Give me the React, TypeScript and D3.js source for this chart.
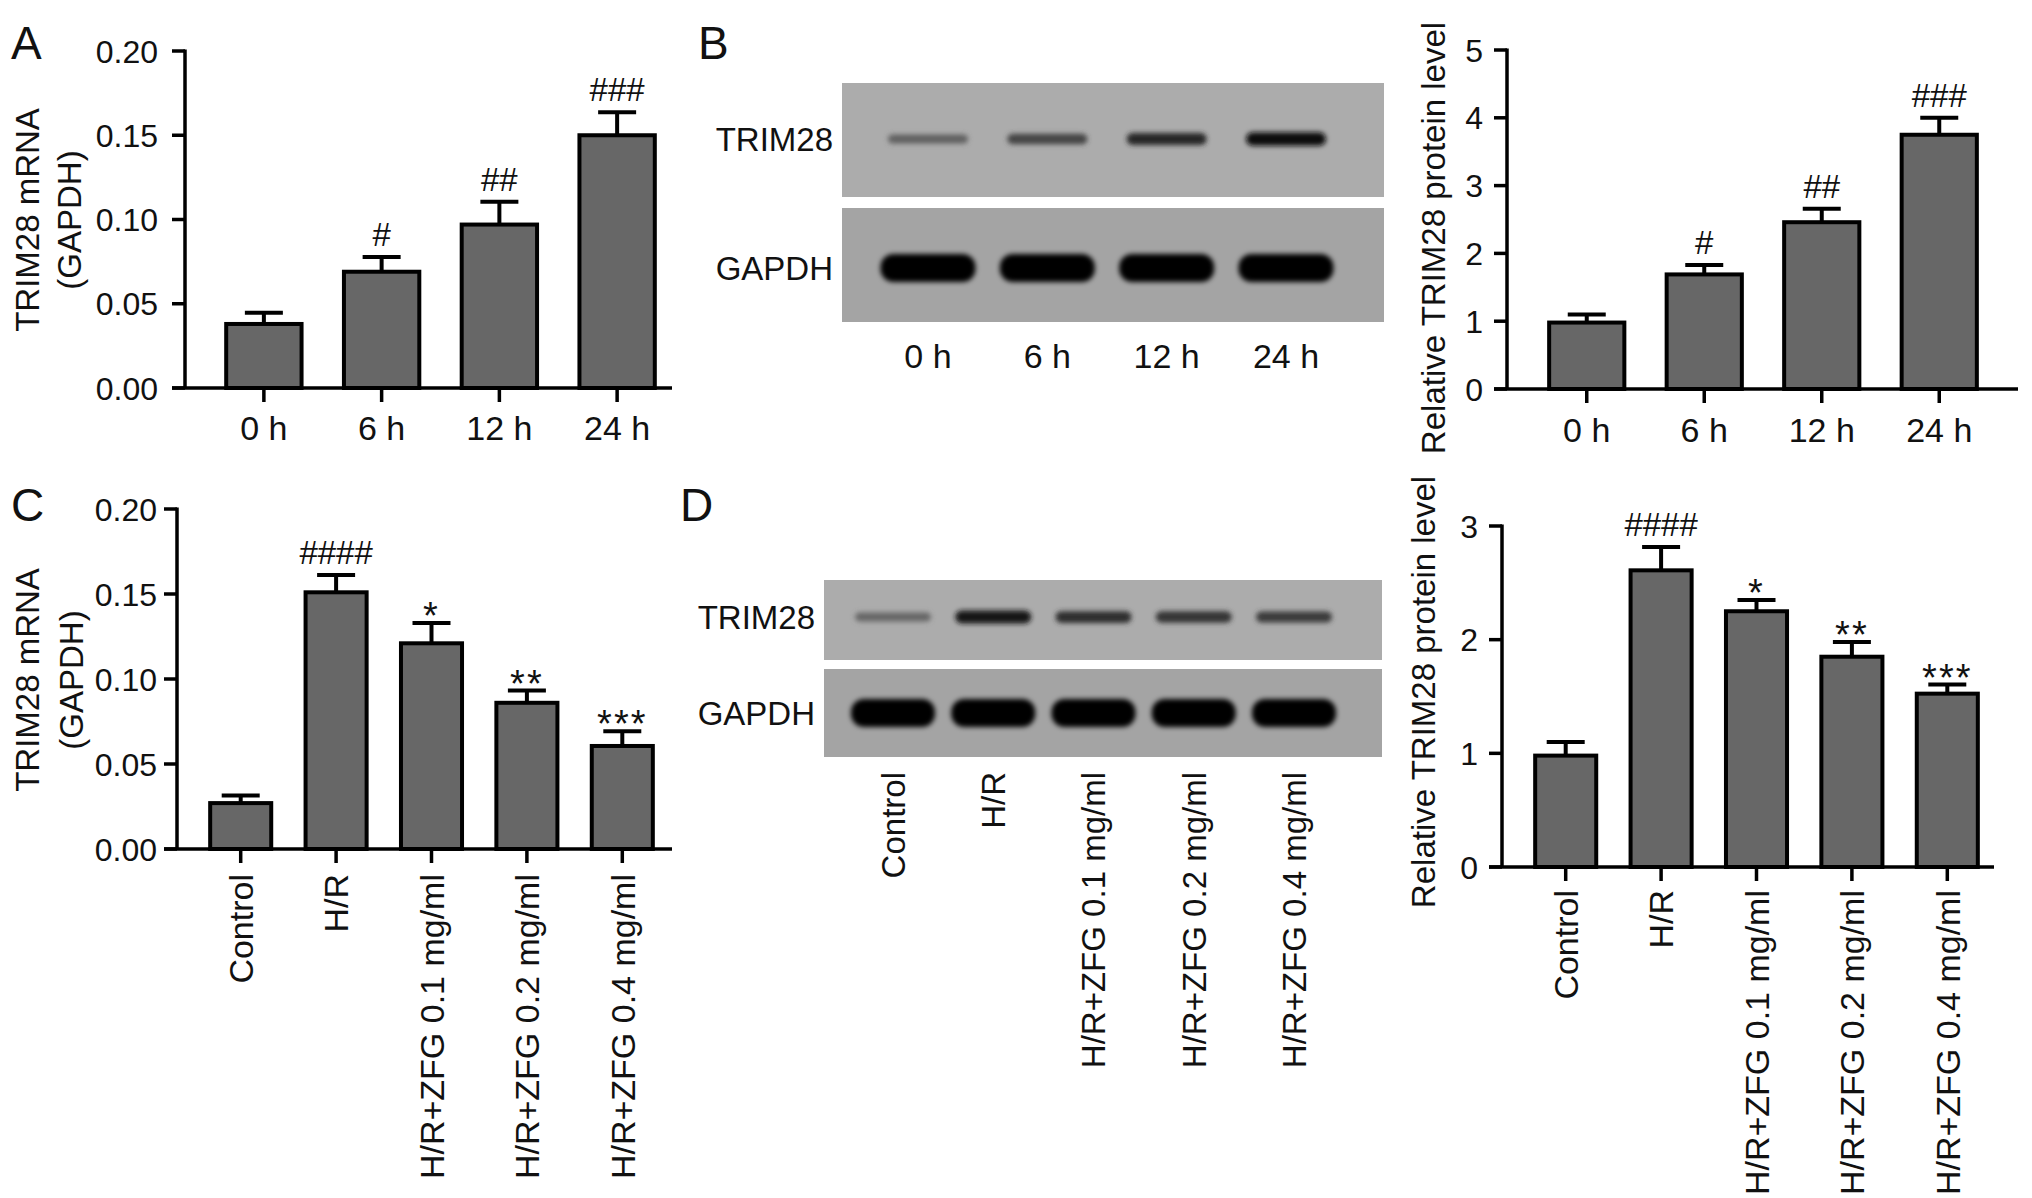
import React from 'react';
import * as d3 from 'd3';

// ---- data ----
const timeLabels = ['0 h', '6 h', '12 h', '24 h'];
const groupLabels = ['Control', 'H/R', 'H/R+ZFG 0.1 mg/ml', 'H/R+ZFG 0.2 mg/ml', 'H/R+ZFG 0.4 mg/ml'];

const mrnaTime = [0.038, 0.069, 0.097, 0.15];
const mrnaTimeErr = [0.0066, 0.0088, 0.0135, 0.0137];
const proteinTime = [0.98, 1.69, 2.46, 3.75];
const proteinTimeErr = [0.12, 0.14, 0.2, 0.25];
const timeSig = ['', '#', '##', '###'];

const mrnaGroup = [0.027, 0.151, 0.121, 0.086, 0.0606];
const mrnaGroupErr = [0.0044, 0.0102, 0.012, 0.0072, 0.0086];
const proteinGroup = [0.98, 2.61, 2.25, 1.85, 1.525];
const proteinGroupErr = [0.12, 0.205, 0.1, 0.13, 0.08];
const groupSig = ['', '####', '*', '**', '***'];

// band darkness on the blots (0 = background, 1 = black)
const blotTimeTrim = [0.45, 0.62, 0.8, 0.95];
const blotTimeGapdh = [1, 1, 1, 1];
const blotGroupTrim = [0.42, 0.88, 0.75, 0.72, 0.68];
const blotGroupGapdh = [1, 1, 1, 1, 1];

const FONT = '"Liberation Sans", Arial, Helvetica, sans-serif';
const BAR_FILL = '#676767';

function BarPanel({ cats, values, errors, sig, cfg }) {
  const y = d3.scaleLinear().domain([0, cfg.max]).range([cfg.yBottom, cfg.yTop]);
  const x = d3
    .scaleBand()
    .domain(cats)
    .range([cfg.bandStart, cfg.bandEnd])
    .paddingInner(0.36)
    .paddingOuter(0.18);
  const ticks = d3.range(0, cfg.max + 1e-9, cfg.step);
  const bw = x.bandwidth();

  return (
    <g fontFamily={FONT}>
      {cats.map((c, i) => {
        const cx = x(c) + bw / 2;
        const top = y(values[i] + errors[i]);
        const isStar = sig[i].includes('*');
        return (
          <g key={c}>
            <line x1={cx} x2={cx} y1={y(values[i])} y2={top} stroke="#000" strokeWidth={4} />
            <line x1={cx - 19} x2={cx + 19} y1={top} y2={top} stroke="#000" strokeWidth={4} />
            <rect
              x={x(c)}
              y={y(values[i])}
              width={bw}
              height={cfg.yBottom - y(values[i])}
              fill={BAR_FILL}
              stroke="#000"
              strokeWidth={4}
            />
            {sig[i] && (
              <text
                x={cx}
                y={top - (isStar ? -6 : 11)}
                textAnchor="middle"
                fontSize={isStar ? 38 : 33}
                letterSpacing={isStar ? 2 : 0}
                fill="#111"
              >
                {sig[i]}
              </text>
            )}
          </g>
        );
      })}
      {/* y axis */}
      <line x1={cfg.axisX} x2={cfg.axisX} y1={cfg.yTop - 1.5} y2={cfg.yBottom} stroke="#000" strokeWidth={3.5} />
      {ticks.map((t) => (
        <g key={t}>
          <line x1={cfg.axisX - 13} x2={cfg.axisX} y1={y(t)} y2={y(t)} stroke="#000" strokeWidth={3.5} />
          <text
            x={cfg.axisX - cfg.tickGap}
            y={y(t)}
            dy="0.36em"
            textAnchor="end"
            fontSize={32}
            fill="#111"
          >
            {cfg.fmt(t)}
          </text>
        </g>
      ))}
      {/* x axis */}
      <line x1={cfg.axisX - 13} x2={cfg.xAxisEnd} y1={cfg.yBottom} y2={cfg.yBottom} stroke="#000" strokeWidth={3.5} />
      {cats.map((c) => {
        const cx = x(c) + bw / 2;
        return (
          <g key={'t' + c}>
            <line x1={cx} x2={cx} y1={cfg.yBottom} y2={cfg.yBottom + 14} stroke="#000" strokeWidth={3.5} />
            {cfg.rotated ? (
              <text
                transform={`translate(${cx},${cfg.labelY}) rotate(-90)`}
                textAnchor="end"
                dy="0.36em"
                fontSize={34}
                fill="#111"
              >
                {c}
              </text>
            ) : (
              <text x={cx} y={cfg.labelY} dy="0.36em" textAnchor="middle" fontSize={34} fill="#111">
                {c}
              </text>
            )}
          </g>
        );
      })}
      {/* y title */}
      {cfg.title.map((line, i) => (
        <text
          key={line}
          transform={`translate(${cfg.titleX[i]},${cfg.titleY}) rotate(-90)`}
          textAnchor="middle"
          dy="0.36em"
          fontSize={33}
          fill="#111"
        >
          {line}
        </text>
      ))}
    </g>
  );
}

function Blot({ lanes, trim, gapdh, cfg, id }) {
  const x = d3.scalePoint().domain(lanes).range(cfg.laneRange);
  const shade = d3.interpolateRgb(cfg.bgTop, '#050505');
  return (
    <g fontFamily={FONT}>
      <defs>
        <filter id={id + 'blur'} x="-20%" y="-100%" width="140%" height="300%">
          <feGaussianBlur stdDeviation="2.6" />
        </filter>
      </defs>
      <rect x={cfg.x0} y={cfg.top[0]} width={cfg.x1 - cfg.x0} height={cfg.top[1] - cfg.top[0]} fill={cfg.bgTop} />
      <rect x={cfg.x0} y={cfg.bot[0]} width={cfg.x1 - cfg.x0} height={cfg.bot[1] - cfg.bot[0]} fill={cfg.bgBot} />
      <g filter={`url(#${id}blur)`}>
        {lanes.map((l, i) => {
          const h = 5 + trim[i] * 9;
          return (
            <rect
              key={'tr' + l}
              x={x(l) - cfg.trimW / 2}
              y={cfg.trimY - h / 2}
              width={cfg.trimW}
              height={h}
              rx={h / 2}
              fill={shade(trim[i])}
            />
          );
        })}
        {lanes.map((l, i) => (
          <rect
            key={'gp' + l}
            x={x(l) - cfg.gapW / 2}
            y={cfg.gapY - 14}
            width={cfg.gapW}
            height={28}
            rx={13}
            fill={shade(gapdh[i])}
          />
        ))}
      </g>
      <text x={cfg.x0 - 9} y={cfg.trimY} dy="0.36em" textAnchor="end" fontSize={33} fill="#111">
        TRIM28
      </text>
      <text x={cfg.x0 - 9} y={cfg.gapY} dy="0.36em" textAnchor="end" fontSize={33} fill="#111">
        GAPDH
      </text>
      {lanes.map((l) =>
        cfg.rotated ? (
          <text
            key={'lb' + l}
            transform={`translate(${x(l)},${cfg.labelY}) rotate(-90)`}
            textAnchor="end"
            dy="0.36em"
            fontSize={33}
            fill="#111"
          >
            {l}
          </text>
        ) : (
          <text key={'lb' + l} x={x(l)} y={cfg.labelY} dy="0.36em" textAnchor="middle" fontSize={34} fill="#111">
            {l}
          </text>
        )
      )}
    </g>
  );
}

const fmt2 = d3.format('.2f');
const fmt0 = d3.format('d');

export default function App() {
  return (
    <svg
      width={2032}
      height={1198}
      style={{ position: 'absolute', left: 0, top: 0, background: '#fff' }}
    >
      <rect width={2032} height={1198} fill="#fff" />
      <g fontFamily={FONT} fontSize={46} fill="#111">
        <text x={11} y={59}>A</text>
        <text x={698} y={59}>B</text>
        <text x={11} y={521}>C</text>
        <text x={680} y={521}>D</text>
      </g>

      <BarPanel
        cats={timeLabels}
        values={mrnaTime}
        errors={mrnaTimeErr}
        sig={timeSig}
        cfg={{
          max: 0.2, step: 0.05, fmt: fmt2, axisX: 185, yTop: 51, yBottom: 388,
          bandStart: 205, bandEnd: 676, xAxisEnd: 672, tickGap: 27,
          rotated: false, labelY: 428,
          title: ['TRIM28 mRNA', '(GAPDH)'], titleX: [27, 69], titleY: 220,
        }}
      />

      <Blot
        id="b"
        lanes={timeLabels}
        trim={blotTimeTrim}
        gapdh={blotTimeGapdh}
        cfg={{
          x0: 842, x1: 1384, top: [83, 197], bot: [208, 322],
          bgTop: '#acacac', bgBot: '#a4a4a4',
          laneRange: [928, 1286], trimY: 139, gapY: 268, trimW: 80, gapW: 95,
          rotated: false, labelY: 356,
        }}
      />

      <BarPanel
        cats={timeLabels}
        values={proteinTime}
        errors={proteinTimeErr}
        sig={timeSig}
        cfg={{
          max: 5, step: 1, fmt: fmt0, axisX: 1507, yTop: 50, yBottom: 389,
          bandStart: 1528, bandEnd: 1998, xAxisEnd: 2018, tickGap: 24,
          rotated: false, labelY: 430,
          title: ['Relative TRIM28 protein level'], titleX: [1433], titleY: 238,
        }}
      />

      <BarPanel
        cats={groupLabels}
        values={mrnaGroup}
        errors={mrnaGroupErr}
        sig={groupSig}
        cfg={{
          max: 0.2, step: 0.05, fmt: fmt2, axisX: 177, yTop: 509, yBottom: 849,
          bandStart: 193, bandEnd: 670, xAxisEnd: 672, tickGap: 20,
          rotated: true, labelY: 874,
          title: ['TRIM28 mRNA', '(GAPDH)'], titleX: [27, 71], titleY: 680,
        }}
      />

      <Blot
        id="d"
        lanes={groupLabels}
        trim={blotGroupTrim}
        gapdh={blotGroupGapdh}
        cfg={{
          x0: 824, x1: 1382, top: [580, 660], bot: [669, 757],
          bgTop: '#acacac', bgBot: '#a4a4a4',
          laneRange: [893, 1294], trimY: 617, gapY: 713, trimW: 76, gapW: 84,
          rotated: true, labelY: 772,
        }}
      />

      <BarPanel
        cats={groupLabels}
        values={proteinGroup}
        errors={proteinGroupErr}
        sig={groupSig}
        cfg={{
          max: 3, step: 1, fmt: fmt0, axisX: 1502, yTop: 526, yBottom: 867,
          bandStart: 1518, bandEnd: 1995, xAxisEnd: 1994, tickGap: 24,
          rotated: true, labelY: 890,
          title: ['Relative TRIM28 protein level'], titleX: [1423], titleY: 692,
        }}
      />
    </svg>
  );
}
